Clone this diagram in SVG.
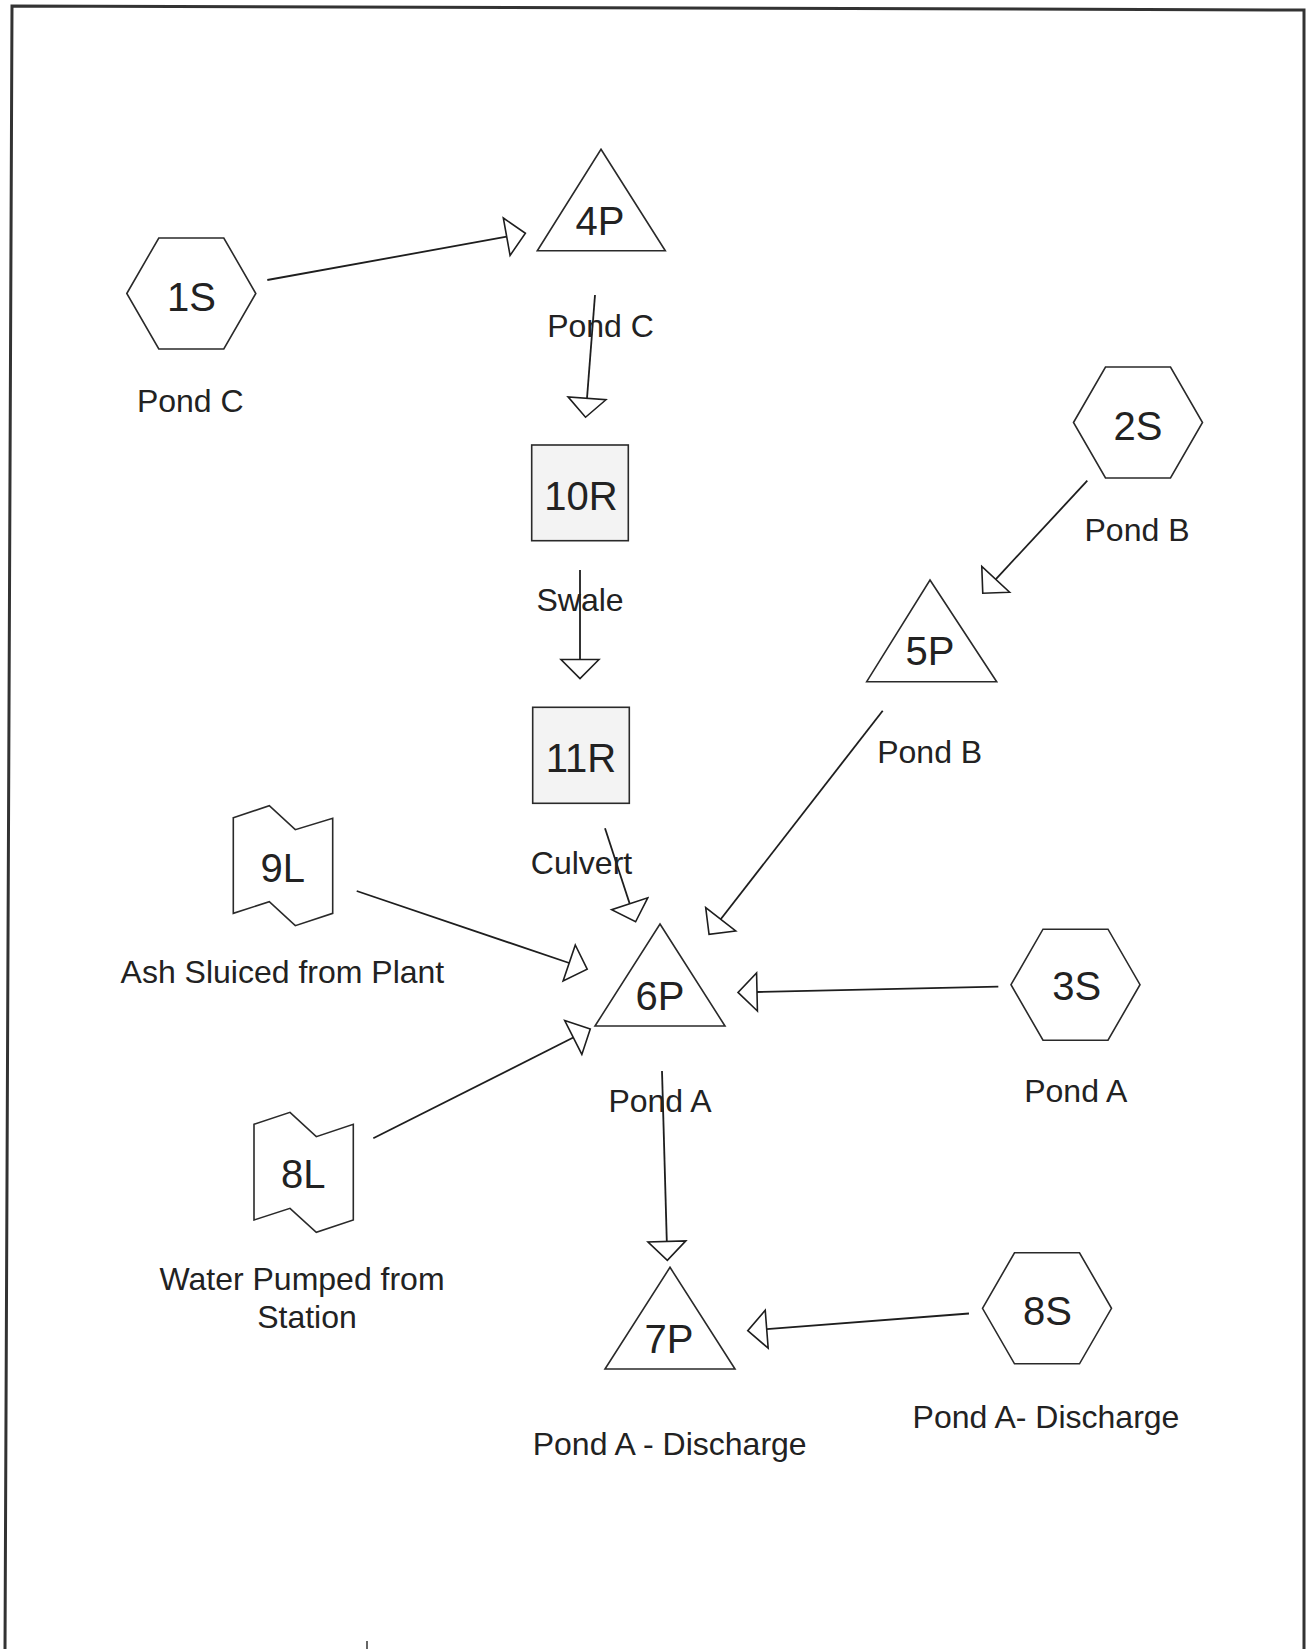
<svg xmlns="http://www.w3.org/2000/svg" width="1307" height="1649" viewBox="0 0 1307 1649">
<style>
  .shape { fill: #ffffff; stroke: #2a2a2a; stroke-width: 1.6; stroke-linejoin: miter; }
  .box { fill: #f3f3f3; stroke: #2a2a2a; stroke-width: 1.6; }
  .id { font-family: "Liberation Sans", Arial, sans-serif; font-size: 40px; fill: #222; text-anchor: middle; }
  .lbl { font-family: "Liberation Sans", Arial, sans-serif; font-size: 32px; fill: #222; text-anchor: middle; }
  .conn line { stroke: #1e1e1e; stroke-width: 1.8; marker-end: url(#open); }
  .frame { stroke: #333; stroke-width: 3; fill: none; }
</style>
<defs>
  <marker id="open" markerUnits="userSpaceOnUse" viewBox="-2 -21 23 42" markerWidth="23" markerHeight="42" refX="0" refY="0" orient="auto">
    <path d="M0,-19 L19,0 L0,19 Z" fill="#ffffff" stroke="#1e1e1e" stroke-width="1.6" stroke-linejoin="miter"/>
  </marker>
</defs>
<rect x="0" y="0" width="1307" height="1649" fill="#ffffff"/>
<g id="frame">
  <polyline class="frame" points="5,1649 12,6 1304,10 1304,1649"/>
  <line x1="367" y1="1641" x2="367" y2="1649" stroke="#333" stroke-width="1.5"/>
</g>

<g id="connectors" class="conn">
  <line x1="267.3" y1="280" x2="506.7" y2="236.7"/>
  <line x1="595" y1="295" x2="587" y2="398.3"/>
  <line x1="580" y1="570" x2="580" y2="659.5"/>
  <line x1="605" y1="828.3" x2="629.7" y2="903.7"/>
  <line x1="882.7" y1="710.7" x2="720.7" y2="919.3"/>
  <line x1="1087.3" y1="480.7" x2="995.7" y2="579.3"/>
  <line x1="356.7" y1="891" x2="569.2" y2="963"/>
  <line x1="373.3" y1="1138.3" x2="573.3" y2="1037.5"/>
  <line x1="998.3" y1="986.7" x2="757" y2="992"/>
  <line x1="662" y1="1071" x2="666.8" y2="1241.4"/>
  <line x1="969" y1="1313.5" x2="766.7" y2="1329.2"/>
</g>

<g id="node-1S">
  <polygon class="shape" points="126.8,293.5 158.8,238 223.8,238 255.8,293.5 223.8,349 158.8,349"/>
  <text class="id" x="191.5" y="310.7">1S</text>
  <text class="lbl" x="190.3" y="411.7">Pond C</text>
</g>
<g id="node-2S">
  <polygon class="shape" points="1073.5,422.5 1105.5,367 1170.5,367 1202.5,422.5 1170.5,478 1105.5,478"/>
  <text class="id" x="1138" y="440">2S</text>
  <text class="lbl" x="1137" y="540.7">Pond B</text>
</g>
<g id="node-3S">
  <polygon class="shape" points="1011,984.7 1043,929.2 1108,929.2 1140,984.7 1108,1040.2 1043,1040.2"/>
  <text class="id" x="1076.7" y="1000">3S</text>
  <text class="lbl" x="1075.8" y="1102.3">Pond A</text>
</g>
<g id="node-8S">
  <polygon class="shape" points="982.5,1308.3 1014.5,1252.8 1079.5,1252.8 1111.5,1308.3 1079.5,1363.8 1014.5,1363.8"/>
  <text class="id" x="1047.5" y="1325">8S</text>
  <text class="lbl" x="1046" y="1428">Pond A- Discharge</text>
</g>
<g id="node-4P">
  <polygon class="shape" points="601,149.3 665.3,250.7 537.3,250.7"/>
  <text class="id" x="600" y="235">4P</text>
  <text class="lbl" x="600.5" y="336.7">Pond C</text>
</g>
<g id="node-5P">
  <polygon class="shape" points="930,580 996.7,681.7 866.7,681.7"/>
  <text class="id" x="930" y="665">5P</text>
  <text class="lbl" x="929.7" y="763.3">Pond B</text>
</g>
<g id="node-6P">
  <polygon class="shape" points="660,924 725,1026 595,1026"/>
  <text class="id" x="660" y="1010">6P</text>
  <text class="lbl" x="660" y="1112">Pond A</text>
</g>
<g id="node-7P">
  <polygon class="shape" points="670,1267.3 735,1369 605,1369"/>
  <text class="id" x="669" y="1352.7">7P</text>
  <text class="lbl" x="669.7" y="1455">Pond A - Discharge</text>
</g>
<g id="node-10R">
  <rect class="box" x="531.7" y="445" width="96.6" height="95.7"/>
  <text class="id" x="581" y="510">10R</text>
  <text class="lbl" x="580" y="610.7">Swale</text>
</g>
<g id="node-11R">
  <rect class="box" x="532.7" y="707.3" width="96.6" height="96"/>
  <text class="id" x="581" y="771.7">11R</text>
  <text class="lbl" x="581.5" y="874.3">Culvert</text>
</g>
<g id="node-9L">
  <polygon class="shape" points="233.3,817.7 269.3,805.7 295.3,829.7 332.7,818.3 332.7,913.3 295.3,925.7 269.3,901.7 233.3,913.3"/>
  <text class="id" x="282.7" y="881.7">9L</text>
  <text class="lbl" x="282.4" y="983.3">Ash Sluiced from Plant</text>
</g>
<g id="node-8L">
  <polygon class="shape" points="254,1124.3 290,1112.3 316.3,1136.7 353.3,1124.3 353.3,1220 316.3,1232.3 290,1208.3 254,1220"/>
  <text class="id" x="303.3" y="1188.3">8L</text>
  <text class="lbl" x="302" y="1290">Water Pumped from</text>
  <text class="lbl" x="307" y="1328">Station</text>
</g>
</svg>
